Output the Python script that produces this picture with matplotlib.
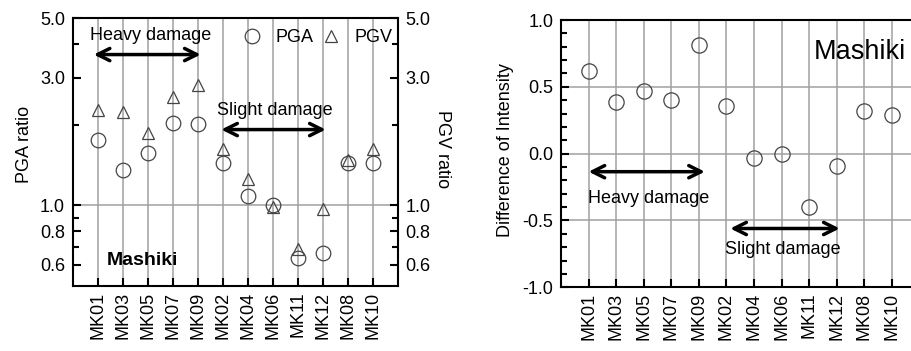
import numpy as np
import matplotlib.pyplot as plt
from matplotlib.ticker import FixedLocator, NullFormatter

plt.rcParams['font.family'] = ['Liberation Sans', 'DejaVu Sans']

stations = ['MK01', 'MK03', 'MK05', 'MK07', 'MK09', 'MK02',
            'MK04', 'MK06', 'MK11', 'MK12', 'MK08', 'MK10']
pga_ratio = [1.76, 1.36, 1.57, 2.03, 2.01, 1.44, 1.08, 1.00, 0.637, 0.662, 1.44, 1.44]
pgv_ratio = [2.28, 2.23, 1.87, 2.53, 2.82, 1.63, 1.25, 0.99, 0.685, 0.97, 1.48, 1.63]
intensity_diff = [0.62, 0.39, 0.47, 0.40, 0.81, 0.36, -0.035, 0.0, -0.40, -0.095, 0.32, 0.29]

x = np.arange(len(stations))
FS = 13
GRID = '#a0a0a0'
EDGE = '#444444'

fig = plt.figure(figsize=(9.12, 3.51), dpi=100)

# -----
# Left panel: PGA / PGV ratio (log scale)
# -----
ax = fig.add_axes([0.0797, 0.1852, 0.3564, 0.7627])
for xi in x:
    ax.axvline(xi, color=GRID, lw=1.1, zorder=0)
ax.axhline(1.0, color=GRID, lw=1.1, zorder=0)
ax.plot(x, pga_ratio, 'o', ms=10.5, mfc='none', mec=EDGE, mew=0.9, label='PGA')
ax.plot(x, pgv_ratio, '^', ms=9, mfc='none', mec=EDGE, mew=0.9, label='PGV')
ax.set_yscale('log')
ax.set_ylim(0.5, 5.0)
ax.set_xlim(-1, 12)
ax.yaxis.set_major_locator(FixedLocator([0.6, 0.8, 1.0, 3.0, 5.0]))
ax.yaxis.set_minor_locator(FixedLocator([0.7, 0.9, 2.0, 4.0]))
ax.yaxis.set_major_formatter(plt.FuncFormatter(lambda v, p: '%.1f' % v))
ax.yaxis.set_minor_formatter(NullFormatter())
ax.set_xticks(x)
ax.set_xticklabels(stations, rotation=90, fontsize=FS)
ax.tick_params(axis='y', which='both', direction='in', right=True, labelright=True,
               labelsize=FS, width=1.5, pad=5.5)
ax.tick_params(axis='y', which='major', length=6)
ax.tick_params(axis='y', which='minor', length=4)
ax.tick_params(axis='x', direction='in', length=6, width=1.5, pad=4)
for s in ax.spines.values():
    s.set_linewidth(1.5)
ax.set_ylabel('PGA ratio', fontsize=FS)
ax.yaxis.set_label_coords(-0.122, 0.53)
fig.text(443 / 912, 0.5755, 'PGV ratio', rotation=270,
         ha='center', va='center', fontsize=FS)

ax.annotate('', xy=(-0.27, 3.66), xytext=(4.23, 3.66),
            arrowprops=dict(arrowstyle='<->', lw=2.5, mutation_scale=22, color='black'))
ax.text(2.1, 4.33, 'Heavy damage', ha='center', va='center', fontsize=FS)
ax.annotate('', xy=(4.83, 1.92), xytext=(9.23, 1.92),
            arrowprops=dict(arrowstyle='<->', lw=2.5, mutation_scale=22, color='black'))
ax.text(7.1, 2.27, 'Slight damage', ha='center', va='center', fontsize=FS)
ax.text(0.35, 0.625, 'Mashiki', ha='left', va='center', fontsize=14, fontweight='bold')
ax.legend(loc='upper right', bbox_to_anchor=(1.035, 1.02), ncol=2, frameon=False,
          fontsize=FS, handletextpad=0.7, columnspacing=0.4, handlelength=1.2)

# -----
# Right panel: difference of intensity
# -----
bx = fig.add_axes([0.6151, 0.1815, 0.393, 0.7615])
for xi in x:
    bx.axvline(xi, color=GRID, lw=1.1, zorder=0)
for yv in [0.5, 0.0, -0.5]:
    bx.axhline(yv, color=GRID, lw=1.1, zorder=0)
bx.plot(x, intensity_diff, 'o', ms=11, mfc='none', mec=EDGE, mew=0.9)
bx.set_xlim(-1, 12)
bx.set_ylim(-1.0, 1.0)
bx.set_yticks([-1.0, -0.5, 0.0, 0.5, 1.0])
bx.yaxis.set_minor_locator(FixedLocator(np.arange(-0.9, 1.0, 0.1)))
bx.yaxis.set_major_formatter(plt.FuncFormatter(lambda v, p: '%.1f' % v))
bx.set_xticks(x)
bx.set_xticklabels(stations, rotation=90, fontsize=FS)
bx.tick_params(axis='y', which='both', direction='in', labelsize=FS, width=1.5, pad=5.5)
bx.tick_params(axis='y', which='major', length=6)
bx.tick_params(axis='y', which='minor', length=4)
bx.tick_params(axis='x', direction='in', length=6, width=1.5, pad=4)
for s in bx.spines.values():
    s.set_linewidth(1.5)
bx.set_ylabel('Difference of Intensity', fontsize=FS)
bx.yaxis.set_label_coords(-0.131, 0.514)
bx.annotate('', xy=(-0.1, -0.135), xytext=(4.32, -0.135),
            arrowprops=dict(arrowstyle='<->', lw=2.5, mutation_scale=22, color='black'))
bx.text(2.18, -0.335, 'Heavy damage', ha='center', va='center', fontsize=FS)
bx.annotate('', xy=(5.04, -0.56), xytext=(9.21, -0.56),
            arrowprops=dict(arrowstyle='<->', lw=2.5, mutation_scale=22, color='black'))
bx.text(7.04, -0.72, 'Slight damage', ha='center', va='center', fontsize=FS)
bx.text(8.18, 0.76, 'Mashiki', ha='left', va='center', fontsize=19.5)

fig.savefig('out.png', dpi=100)
